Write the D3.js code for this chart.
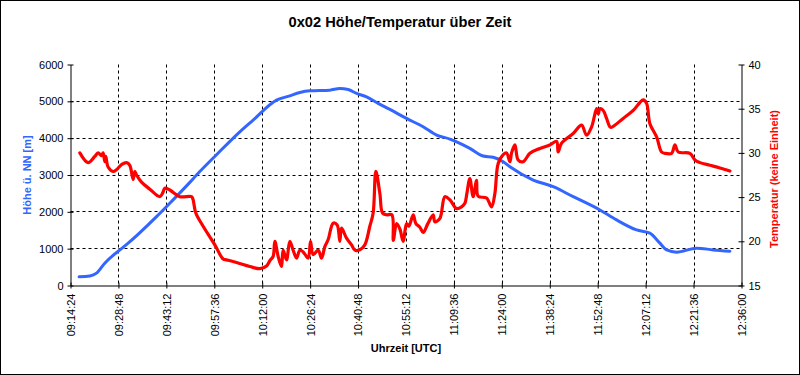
<!DOCTYPE html>
<html><head><meta charset="utf-8">
<script src="https://cdn.jsdelivr.net/npm/d3@7"></script>
<style>
body{margin:0;background:#fff}
svg{display:block;font-family:"Liberation Sans",Arial,sans-serif}
</style>
</head><body>
<svg id="chart" width="800" height="375"></svg>
<script>
const chartTitle = "0x02 Höhe/Temperatur über Zeit";
const xTitle = "Uhrzeit [UTC]";
const altTitle = "Höhe ü. NN [m]";
const tempTitle = "Temperatur (keine Einheit)";

const xTickLabels = ["09:14:24","09:28:48","09:43:12","09:57:36","10:12:00","10:26:24","10:40:48","10:55:12","11:09:36","11:24:00","11:38:24","11:52:48","12:07:12","12:21:36","12:36:00"];
const altTicks = [0,1000,2000,3000,4000,5000,6000];
const tempTicks = [15,20,25,30,35,40];

// Altitude series (left axis)
const altTimes = ["09:16:59","09:20:12","09:22:13","09:24:42","09:29:13","09:31:43","09:40:15","09:44:14","09:50:15","09:52:16","09:58:16","10:05:16","10:09:16","10:16:18","10:20:18","10:23:18","10:26:19","10:32:19","10:35:19","10:37:49","10:40:21","10:43:21","10:46:50","10:50:21","10:55:22","11:00:21","11:04:23","11:08:23","11:10:24","11:14:23","11:18:23","11:21:23","11:24:24","11:26:25","11:33:25","11:39:25","11:45:26","11:53:27","11:58:28","12:04:29","12:08:29","12:11:29","12:13:30","12:16:30","12:22:31","12:27:30","12:32:31"];
const altValues = [235,260,336,607,967,1149,1870,2233,2800,3000,3550,4173,4490,5032,5150,5240,5285,5303,5350,5322,5214,5122,4943,4780,4536,4309,4084,3976,3902,3723,3515,3480,3360,3225,2864,2683,2412,2051,1780,1509,1420,1149,967,905,1014,967,930];

// Temperature series (right axis)
const tempTimes = ["09:17:12","09:19:41","09:21:42","09:22:42","09:23:43","09:24:12","09:24:42","09:25:00","09:25:42","09:27:12","09:28:13","09:29:49","09:31:14","09:32:13","09:33:13","09:33:43","09:34:14","09:35:44","09:38:14","09:41:14","09:42:08","09:42:44","09:44:14","09:47:15","09:50:46","09:51:14","09:52:03","09:54:15","09:57:46","10:00:15","10:01:17","10:04:17","10:08:17","10:11:17","10:13:18","10:14:17","10:15:17","10:15:48","10:16:47","10:17:48","10:18:17","10:19:18","10:20:18","10:21:17","10:22:19","10:23:18","10:24:18","10:25:48","10:26:31","10:27:18","10:28:48","10:29:50","10:30:49","10:31:49","10:33:19","10:34:31","10:35:19","10:35:50","10:37:20","10:38:50","10:39:50","10:41:20","10:42:50","10:44:20","10:45:20","10:46:09","10:47:21","10:48:09","10:49:21","10:50:57","10:51:24","10:52:22","10:53:21","10:54:21","10:55:22","10:56:04","10:57:21","10:58:10","10:59:22","11:00:21","11:01:46","11:03:22","11:03:52","11:05:23","11:06:53","11:08:23","11:10:24","11:11:54","11:12:53","11:13:29","11:14:23","11:15:23","11:16:24","11:16:53","11:19:24","11:20:55","11:21:54","11:22:54","11:24:24","11:25:25","11:26:25","11:26:55","11:27:55","11:28:54","11:30:24","11:32:25","11:35:26","11:38:26","11:40:27","11:40:55","11:41:57","11:45:26","11:47:57","11:49:27","11:50:58","11:52:28","11:52:57","11:53:27","11:54:27","11:55:28","11:56:28","11:56:58","12:00:27","12:03:28","12:05:29","12:06:28","12:07:29","12:08:29","12:10:30","12:12:00","12:12:59","12:15:00","12:16:00","12:16:59","12:20:30","12:22:00","12:23:30","12:26:31","12:29:31","12:32:31"];
const tempValues = [30.0,28.9,29.6,30.0,29.7,30.0,29.0,29.6,28.4,27.9,28.1,28.7,28.9,28.6,27.0,27.9,27.5,26.7,25.9,25.05,25.5,26.0,25.8,25.05,25.05,24.7,23.2,21.7,19.6,18.0,17.9,17.6,17.15,16.9,17.2,17.8,18.3,20.0,18.3,17.15,19.0,17.9,20.0,19.0,18.1,19.0,18.8,18.1,20.0,18.5,19.0,18.1,19.4,20.2,22.05,21.85,20.0,21.5,20.35,19.6,19.0,19.05,19.6,21.7,23.2,27.9,25.4,23.2,23.0,23.0,20.1,22.0,21.4,20.0,22.0,21.7,23.0,22.0,21.6,21.0,22.0,23.0,22.2,22.6,25.05,24.7,23.7,23.9,24.3,25.4,27.1,25.05,26.9,25.1,24.9,23.9,25.4,28.8,29.8,30.0,29.0,30.0,30.9,29.2,29.0,29.95,30.5,30.9,31.3,30.1,31.1,32.2,33.15,32.0,32.95,35.0,34.4,35.0,34.8,33.9,32.95,32.9,33.9,34.8,35.7,36.0,35.6,33.3,31.8,30.1,29.95,29.95,30.9,30.1,29.95,29.2,28.9,28.6,28.3,27.95];

const toSec = s => { const p = s.split(":").map(Number); return p[0]*3600 + p[1]*60 + p[2]; };

const svg = d3.select("#chart");
const L = 70.5, R = 741.5, T = 64.5, B = 285.5;

svg.append("rect").attr("x",0.5).attr("y",0.5).attr("width",799).attr("height",374)
  .attr("fill","#fff").attr("stroke","#000").attr("stroke-width",1);

const x = d3.scaleLinear().domain([toSec(xTickLabels[0]), toSec(xTickLabels[xTickLabels.length-1])]).range([L, R]);
const yAlt = d3.scaleLinear().domain([0, 6000]).range([B, T]);
const yTemp = d3.scaleLinear().domain([15, 40]).range([B, T]);

// gridlines
const grid = svg.append("g").attr("stroke","#000").attr("stroke-width",1).attr("stroke-dasharray","3,3");
xTickLabels.slice(1, -1).forEach(t => {
  const px = Math.round(x(toSec(t))) + 0.5;
  grid.append("line").attr("x1",px).attr("x2",px).attr("y1",T).attr("y2",B);
});
altTicks.filter(v => v > 0 && v < 6000).forEach(v => {
  const py = Math.round(yAlt(v) - 0.5) + 0.5;
  grid.append("line").attr("x1",L).attr("x2",R).attr("y1",py).attr("y2",py);
});

const fontSize = "11px";

const gl = svg.append("g").attr("transform",`translate(${L},0)`)
  .call(d3.axisLeft(yAlt).tickValues(altTicks).tickFormat(d3.format("d")).tickSizeOuter(0));
const gb = svg.append("g").attr("transform",`translate(0,${B})`)
  .call(d3.axisBottom(x).tickValues(xTickLabels.map(toSec)).tickFormat((d,i)=>xTickLabels[i]).tickSizeOuter(0));
const gr = svg.append("g").attr("transform",`translate(${R},0)`)
  .call(d3.axisRight(yTemp).tickValues(tempTicks).tickFormat(d3.format("d")).tickSizeOuter(0));

[gl, gb, gr].forEach(g => {
  g.select(".domain").attr("stroke","#000").attr("stroke-width",1);
  g.selectAll("text").attr("fill","#000").style("font-size",fontSize).style("font-family",'"Liberation Sans",Arial,sans-serif');
});
gl.selectAll(".tick line").attr("x1",3).attr("x2",-3).attr("stroke","#000");
gl.selectAll(".tick text").attr("x",-7);
gr.selectAll(".tick line").attr("x1",-3).attr("x2",3).attr("stroke","#000");
gr.selectAll(".tick text").attr("x",7);
gb.selectAll(".tick line").attr("y1",-3).attr("y2",3).attr("stroke","#000");
gb.selectAll(".tick text")
  .attr("transform","rotate(-90)")
  .attr("text-anchor","end")
  .attr("x",-8).attr("y",0).attr("dy","0.35em");

const altData = altTimes.map((t,i)=>({t:toSec(t), v:altValues[i]}));
const tempData = tempTimes.map((t,i)=>({t:toSec(t), v:tempValues[i]}));

svg.append("path").datum(altData)
  .attr("fill","none").attr("stroke","#3366FF").attr("stroke-width",3).attr("stroke-linejoin","round").attr("stroke-linecap","round")
  .attr("d", d3.line().curve(d3.curveMonotoneX).x(d=>x(d.t)).y(d=>yAlt(d.v)));
svg.append("path").datum(tempData)
  .attr("fill","none").attr("stroke","#FF0000").attr("stroke-width",3.2).attr("stroke-linejoin","round").attr("stroke-linecap","round")
  .attr("d", d3.line().curve(d3.curveCatmullRom.alpha(0.5)).x(d=>x(d.t)).y(d=>yTemp(d.v)));

svg.append("text").attr("x",400).attr("y",27).attr("text-anchor","middle")
  .style("font-size","14.67px").style("font-weight","bold").text(chartTitle);
svg.append("text").attr("x",(L+R)/2).attr("y",352).attr("text-anchor","middle")
  .style("font-size","11px").style("font-weight","bold").text(xTitle);
svg.append("text").attr("transform","translate(27,175) rotate(-90)").attr("text-anchor","middle").attr("dy","0.35em")
  .attr("fill","#3366FF").style("font-size","11px").style("font-weight","bold").text(altTitle);
svg.append("text").attr("transform","translate(774,179) rotate(-90)").attr("text-anchor","middle").attr("dy","0.35em")
  .attr("fill","#FF0000").style("font-size","11px").style("font-weight","bold").text(tempTitle);
</script>
</body></html>
